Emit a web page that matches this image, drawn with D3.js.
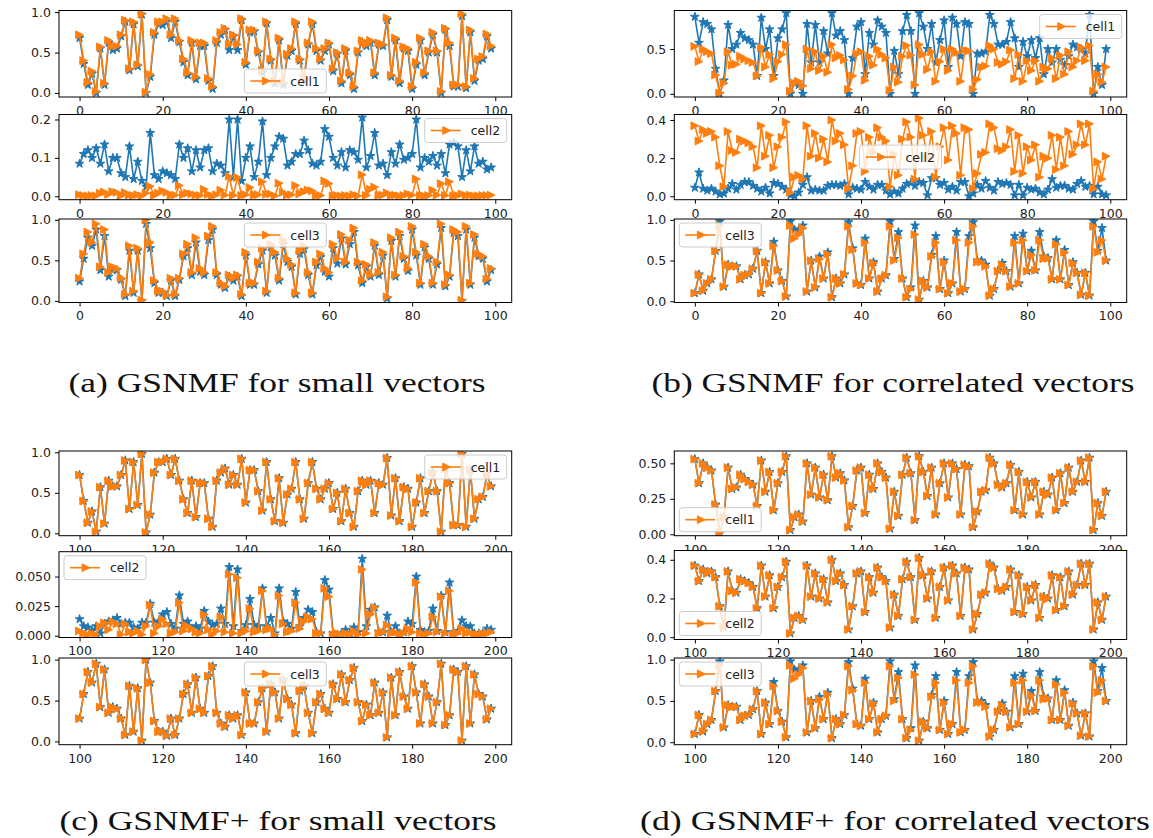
<!DOCTYPE html>
<html><head><meta charset="utf-8">
<script src="https://cdn.jsdelivr.net/npm/d3@7"></script>
<style>body{margin:0;background:#fff}svg{display:block}</style>
</head><body>
<svg id="fig" width="1153" height="838"></svg>
<script>
// ---------- data ----------
// ground-truth signals (orange) for the "small vectors" experiment
const cell1Small = [0.72,0.40,0.13,0.27,0.02,0.57,0.12,0.65,0.58,0.58,
 0.72,0.90,0.30,0.88,0.35,0.98,0.01,0.23,0.75,0.88,
 0.88,0.92,0.72,0.92,0.65,0.42,0.25,0.65,0.20,0.62,
 0.62,0.18,0.08,0.65,0.75,0.80,0.60,0.72,0.60,0.92,
 0.38,0.78,0.78,0.52,0.28,0.88,0.42,0.15,0.68,0.13,
 0.48,0.55,0.88,0.42,0.18,0.62,0.88,0.55,0.42,0.55,
 0.62,0.30,0.50,0.15,0.55,0.25,0.08,0.52,0.65,0.60,
 0.65,0.25,0.62,0.60,0.93,0.22,0.68,0.15,0.57,0.55,
 0.08,0.38,0.68,0.25,0.52,0.75,0.52,0.02,0.80,0.62,
 0.10,0.10,0.98,0.08,0.78,0.18,0.42,0.45,0.73,0.58];
const cell2Small = [0.004,0.002,0.001,0.002,0.001,0.008,0.011,0.005,0.012,0.010,
 0.001,0.010,0.003,0.002,0.004,0.001,0.008,0.026,0.002,0.008,
 0.014,0.010,0.002,0.003,0.028,0.004,0.008,0.006,0.003,0.002,
 0.018,0.005,0.001,0.004,0.016,0.003,0.052,0.002,0.049,0.002,
 0.004,0.023,0.003,0.004,0.038,0.005,0.006,0.001,0.034,0.010,
 0.003,0.004,0.028,0.006,0.012,0.016,0.014,0.002,0.002,0.040,
 0.033,0.001,0.002,0.001,0.002,0.001,0.004,0.001,0.056,0.002,
 0.018,0.024,0.002,0.003,0.009,0.002,0.003,0.001,0.002,0.006,
 0.003,0.045,0.002,0.001,0.002,0.016,0.003,0.033,0.002,0.038,
 0.001,0.002,0.006,0.002,0.003,0.001,0.001,0.002,0.002,0.003];
const cell3Small = [0.28,0.58,0.85,0.72,0.95,0.42,0.88,0.35,0.42,0.40,
 0.28,0.08,0.68,0.12,0.65,0.01,1.00,0.72,0.25,0.12,
 0.12,0.07,0.28,0.08,0.28,0.58,0.70,0.35,0.78,0.40,
 0.35,0.80,0.92,0.35,0.22,0.18,0.32,0.28,0.32,0.08,
 0.60,0.22,0.22,0.48,0.65,0.12,0.70,0.60,0.28,0.75,
 0.52,0.45,0.10,0.62,0.68,0.35,0.10,0.48,0.58,0.40,
 0.35,0.70,0.52,0.82,0.48,0.75,0.90,0.48,0.25,0.45,
 0.32,0.72,0.35,0.60,0.05,0.78,0.32,0.85,0.55,0.40,
 0.92,0.60,0.22,0.70,0.55,0.22,0.48,0.95,0.20,0.32,
 0.88,0.85,0.01,0.92,0.22,0.82,0.58,0.55,0.27,0.40];

// ground-truth signals (orange) for the "correlated vectors" experiment
const cell1Corr = [0.53,0.36,0.50,0.47,0.45,0.21,0.01,0.12,0.47,0.32,
 0.33,0.42,0.39,0.37,0.35,0.20,0.52,0.30,0.44,0.17,
 0.36,0.44,0.55,0.03,0.12,0.14,0.09,0.50,0.28,0.47,
 0.26,0.42,0.24,0.55,0.40,0.43,0.38,0.05,0.20,0.45,
 0.47,0.15,0.42,0.32,0.50,0.44,0.40,0.04,0.30,0.13,
 0.42,0.54,0.43,0.10,0.55,0.44,0.27,0.47,0.14,0.36,
 0.50,0.26,0.50,0.46,0.14,0.49,0.48,0.05,0.16,0.30,
 0.31,0.54,0.50,0.35,0.33,0.36,0.49,0.17,0.44,0.14,
 0.37,0.26,0.37,0.14,0.30,0.28,0.40,0.17,0.43,0.22,
 0.47,0.30,0.37,0.52,0.37,0.54,0.03,0.22,0.13,0.30];
const cell2Corr = [0.37,0.29,0.35,0.33,0.34,0.31,0.16,0.05,0.34,0.24,
 0.23,0.30,0.29,0.28,0.26,0.15,0.37,0.21,0.32,0.15,
 0.26,0.31,0.39,0.02,0.10,0.11,0.09,0.37,0.21,0.33,
 0.20,0.30,0.18,0.40,0.29,0.33,0.27,0.04,0.16,0.33,
 0.34,0.13,0.31,0.23,0.36,0.31,0.29,0.05,0.22,0.11,
 0.30,0.39,0.31,0.09,0.41,0.32,0.20,0.34,0.10,0.26,
 0.36,0.19,0.37,0.33,0.11,0.36,0.35,0.04,0.12,0.22,
 0.23,0.38,0.36,0.25,0.24,0.26,0.35,0.13,0.32,0.12,
 0.26,0.19,0.27,0.10,0.21,0.20,0.32,0.14,0.31,0.16,
 0.34,0.22,0.27,0.38,0.27,0.38,0.04,0.18,0.09,0.21];
const cell3Corr = [0.10,0.33,0.13,0.22,0.27,0.62,0.93,0.18,0.45,0.43,
 0.43,0.27,0.32,0.33,0.40,0.62,0.10,0.48,0.22,0.68,
 0.38,0.25,0.06,0.93,0.77,0.82,0.90,0.12,0.50,0.17,
 0.52,0.28,0.58,0.05,0.28,0.22,0.33,0.92,0.63,0.22,
 0.20,0.72,0.28,0.47,0.12,0.28,0.32,0.92,0.50,0.78,
 0.28,0.05,0.15,0.82,0.02,0.25,0.17,0.55,0.72,0.15,
 0.48,0.10,0.22,0.75,0.12,0.15,0.72,0.92,0.48,0.48,
 0.43,0.07,0.15,0.37,0.45,0.37,0.18,0.72,0.22,0.75,
 0.37,0.57,0.38,0.75,0.52,0.53,0.27,0.70,0.27,0.60,
 0.20,0.47,0.35,0.08,0.35,0.07,0.92,0.60,0.75,0.50];

// GSNMF recoveries (blue)
const gsnmfSmall1 = [0.68,0.36,0.10,0.24,0.00,0.55,0.10,0.62,0.53,0.55,
 0.70,0.88,0.28,0.85,0.33,0.97,0.00,0.20,0.72,0.85,
 0.84,0.88,0.68,0.88,0.63,0.38,0.22,0.62,0.17,0.58,
 0.58,0.15,0.05,0.62,0.72,0.78,0.53,0.70,0.53,0.90,
 0.35,0.75,0.76,0.50,0.25,0.86,0.40,0.12,0.65,0.10,
 0.46,0.52,0.85,0.40,0.15,0.60,0.85,0.52,0.40,0.52,
 0.60,0.27,0.48,0.12,0.52,0.22,0.05,0.50,0.63,0.58,
 0.62,0.22,0.60,0.58,0.90,0.20,0.65,0.12,0.55,0.52,
 0.05,0.35,0.65,0.22,0.50,0.72,0.50,0.00,0.78,0.58,
 0.08,0.08,0.95,0.06,0.75,0.15,0.40,0.42,0.70,0.55];
const gsnmfSmall2 = [0.085,0.11,0.12,0.10,0.125,0.085,0.135,0.065,0.10,0.10,
 0.06,0.05,0.13,0.045,0.09,0.04,0.025,0.165,0.055,0.045,
 0.065,0.06,0.055,0.045,0.135,0.10,0.125,0.065,0.12,0.075,
 0.12,0.125,0.065,0.085,0.08,0.06,0.20,0.05,0.20,0.04,
 0.10,0.13,0.05,0.09,0.195,0.055,0.10,0.13,0.155,0.15,
 0.08,0.09,0.11,0.11,0.145,0.12,0.085,0.08,0.09,0.175,
 0.155,0.10,0.08,0.115,0.075,0.12,0.115,0.095,0.205,0.075,
 0.105,0.165,0.08,0.085,0.055,0.115,0.085,0.135,0.095,0.10,
 0.11,0.20,0.075,0.10,0.09,0.105,0.08,0.11,0.06,0.135,
 0.14,0.13,0.05,0.12,0.065,0.13,0.085,0.09,0.07,0.075];
const gsnmfSmall3 = [0.24,0.52,0.78,0.68,0.88,0.38,0.80,0.30,0.38,0.38,
 0.26,0.06,0.62,0.10,0.62,0.00,0.95,0.65,0.22,0.10,
 0.10,0.06,0.25,0.06,0.26,0.55,0.65,0.32,0.72,0.36,
 0.32,0.75,0.88,0.32,0.20,0.16,0.30,0.25,0.30,0.06,
 0.56,0.20,0.20,0.45,0.62,0.10,0.66,0.56,0.25,0.70,
 0.48,0.42,0.08,0.58,0.64,0.32,0.08,0.44,0.54,0.36,
 0.30,0.65,0.46,0.77,0.45,0.70,0.85,0.44,0.22,0.42,
 0.30,0.68,0.32,0.56,0.03,0.74,0.30,0.80,0.52,0.37,
 0.88,0.56,0.20,0.66,0.52,0.20,0.45,0.90,0.18,0.30,
 0.84,0.80,0.00,0.88,0.20,0.78,0.55,0.52,0.24,0.38];
const gsnmfCorr1 = [0.86,0.57,0.80,0.78,0.72,0.28,0.00,0.15,0.77,0.50,
 0.55,0.68,0.62,0.60,0.55,0.20,0.85,0.50,0.72,0.20,
 0.62,0.72,0.90,0.00,0.12,0.10,0.00,0.78,0.35,0.77,
 0.35,0.70,0.45,0.90,0.65,0.70,0.60,0.00,0.40,0.75,
 0.80,0.22,0.68,0.55,0.82,0.75,0.68,0.00,0.48,0.22,
 0.70,0.88,0.70,0.00,0.90,0.75,0.50,0.78,0.35,0.60,
 0.82,0.30,0.85,0.78,0.42,0.80,0.78,0.00,0.45,0.45,
 0.47,0.88,0.78,0.55,0.55,0.58,0.80,0.62,0.30,0.58,
 0.42,0.60,0.40,0.62,0.22,0.50,0.35,0.50,0.38,0.32,
 0.42,0.55,0.52,0.50,0.45,0.88,0.00,0.30,0.10,0.50];
const gsnmfCorr2 = [0.045,0.125,0.04,0.03,0.04,0.025,0.01,0.015,0.04,0.065,
 0.035,0.06,0.075,0.075,0.055,0.04,0.025,0.045,0.015,0.07,
 0.065,0.05,0.035,0.005,0.00,0.02,0.06,0.10,0.03,0.035,
 0.03,0.03,0.055,0.06,0.06,0.055,0.065,0.01,0.045,0.04,
 0.035,0.075,0.05,0.035,0.06,0.06,0.03,0.01,0.025,0.015,
 0.04,0.065,0.07,0.055,0.075,0.07,0.005,0.095,0.095,0.06,
 0.07,0.035,0.05,0.03,0.075,0.075,0.00,0.015,0.06,0.04,
 0.08,0.045,0.03,0.075,0.065,0.07,0.06,0.005,0.06,0.005,
 0.045,0.035,0.04,0.02,0.01,0.035,0.09,0.045,0.055,0.055,
 0.04,0.035,0.065,0.08,0.05,0.055,0.01,0.05,0.01,0.005];
const gsnmfCorr3 = [0.10,0.33,0.13,0.22,0.27,0.62,0.98,0.18,0.45,0.43,
 0.43,0.27,0.32,0.33,0.40,0.62,0.10,0.48,0.22,0.73,
 0.38,0.25,0.06,0.98,0.88,0.88,0.93,0.12,0.50,0.17,
 0.55,0.28,0.60,0.05,0.28,0.22,0.33,0.97,0.65,0.22,
 0.20,0.77,0.28,0.48,0.12,0.28,0.32,0.98,0.52,0.85,
 0.28,0.05,0.17,0.93,0.02,0.25,0.17,0.57,0.80,0.15,
 0.50,0.10,0.22,0.85,0.12,0.15,0.80,0.97,0.50,0.50,
 0.45,0.07,0.15,0.38,0.47,0.37,0.18,0.80,0.22,0.83,
 0.37,0.62,0.38,0.85,0.55,0.53,0.27,0.75,0.27,0.63,
 0.20,0.48,0.35,0.08,0.35,0.07,0.98,0.62,0.90,0.50];

// GSNMF+ recoveries (blue)
const gsnmfPlusSmall1 = cell1Small;
const gsnmfPlusSmall2 = [0.014,0.008,0.007,0.004,0.008,0.002,0.010,0.012,0.013,0.015,
 0.010,0.011,0.011,0.007,0.006,0.011,0.011,0.027,0.011,0.012,
 0.018,0.020,0.010,0.006,0.034,0.010,0.012,0.006,0.008,0.006,
 0.021,0.012,0.009,0.010,0.023,0.010,0.058,0.008,0.056,0.004,
 0.009,0.031,0.009,0.008,0.040,0.008,0.015,0.002,0.040,0.012,
 0.010,0.006,0.037,0.008,0.015,0.022,0.020,0.003,0.002,0.047,
 0.039,0.002,0.001,0.002,0.005,0.002,0.007,0.003,0.065,0.008,
 0.022,0.024,0.003,0.003,0.017,0.003,0.008,0.002,0.003,0.012,
 0.010,0.050,0.005,0.003,0.004,0.023,0.004,0.034,0.003,0.045,
 0.003,0.004,0.013,0.008,0.008,0.002,0.002,0.002,0.006,0.005];
const gsnmfPlusSmall3 = cell3Small;
const gsnmfPlusCorr1 = cell1Corr;
const gsnmfPlusCorr2 = cell2Corr;
const gsnmfPlusCorr3 = gsnmfCorr3;

// sample indices and tick labels
const idxFirst = d3.range(0, 100);
const idxSecond = d3.range(100, 200);
const xTicksFirst = [0, 20, 40, 60, 80, 100];
const xTicksSecond = [100, 120, 140, 160, 180, 200];
const yTicksUnit = [0, 0.5, 1.0];
const yTicksHalf = [0, 0.5];
const yTicksTenth = [0, 0.1, 0.2];
const yTicksFifth = [0, 0.2, 0.4];
const yTicksQuarter = [0, 0.25, 0.5];
const yTicksSmall = [0, 0.025, 0.05];
const cellNames = ["cell1", "cell2", "cell3"];
const captions = ["(a) GSNMF for small vectors", "(b) GSNMF for correlated vectors",
                  "(c) GSNMF+ for small vectors", "(d) GSNMF+ for correlated vectors"];

// ---------- layout ----------
const BLUE = "#1f77b4", ORANGE = "#ff7f0e";
const svg = d3.select("#fig");
svg.append("rect").attr("width", 1153).attr("height", 838).attr("fill", "#fff");

const colX = [[59, 511.7], [674.3, 1126.7]];
const rowsTop = [[10.5, 97], [114.5, 199.7], [219, 302.5]];
const rowsBottomC = [[451, 535.7], [551.7, 637.5], [658, 744.7]];
const rowsBottomD = [[451, 535.7], [550.5, 639.5], [658, 744.7]];

const panels = [
  { col: 0, rows: rowsTop, idx: idxFirst, xt: xTicksFirst, cap: captions[0], capX: 277, capY: 392, capW: 417, subs: [
    { blue: gsnmfSmall1, orange: cell1Small, ydom: [-0.05, 1.02], yt: yTicksUnit, fmt: ".1f", leg: "lower center" },
    { blue: gsnmfSmall2, orange: cell2Small, ydom: [-0.009, 0.213], yt: yTicksTenth, fmt: ".1f", leg: "upper right" },
    { blue: gsnmfSmall3, orange: cell3Small, ydom: [-0.02, 1.01], yt: yTicksUnit, fmt: ".1f", leg: "upper center" } ] },
  { col: 1, rows: rowsTop, idx: idxFirst, xt: xTicksFirst, cap: captions[1], capX: 893, capY: 392, capW: 483, subs: [
    { blue: gsnmfCorr1, orange: cell1Corr, ydom: [-0.035, 0.93], yt: yTicksHalf, fmt: ".1f", leg: "upper right" },
    { blue: gsnmfCorr2, orange: cell2Corr, ydom: [-0.018, 0.429], yt: yTicksFifth, fmt: ".1f", leg: "center" },
    { blue: gsnmfCorr3, orange: cell3Corr, ydom: [-0.015, 1.01], yt: yTicksUnit, fmt: ".1f", leg: "upper left" } ] },
  { col: 0, rows: rowsBottomC, idx: idxSecond, xt: xTicksSecond, cap: captions[2], capX: 278, capY: 830, capW: 437, subs: [
    { blue: gsnmfPlusSmall1, orange: cell1Small, ydom: [-0.03, 1.016], yt: yTicksUnit, fmt: ".1f", leg: "upper right" },
    { blue: gsnmfPlusSmall2, orange: cell2Small, ydom: [-0.0015, 0.071], yt: yTicksSmall, fmt: ".3f", leg: "upper left" },
    { blue: gsnmfPlusSmall3, orange: cell3Small, ydom: [-0.04, 1.02], yt: yTicksUnit, fmt: ".1f", leg: "upper center" } ] },
  { col: 1, rows: rowsBottomD, idx: idxSecond, xt: xTicksSecond, cap: captions[3], capX: 895, capY: 830, capW: 510, subs: [
    { blue: gsnmfPlusCorr1, orange: cell1Corr, ydom: [-0.01, 0.587], yt: yTicksQuarter, fmt: ".2f", leg: "lower left" },
    { blue: gsnmfPlusCorr2, orange: cell2Corr, ydom: [-0.012, 0.448], yt: yTicksFifth, fmt: ".1f", leg: "lower left" },
    { blue: gsnmfPlusCorr3, orange: cell3Corr, ydom: [-0.03, 1.02], yt: yTicksUnit, fmt: ".1f", leg: "upper left" } ] }
];

function starPath(R) {
  const r = R * 0.381966; let p = "";
  for (let k = 0; k < 10; k++) {
    const rad = k % 2 ? r : R, a = -Math.PI / 2 + k * Math.PI / 5;
    p += (k ? "L" : "M") + (rad * Math.cos(a)).toFixed(2) + "," + (rad * Math.sin(a)).toFixed(2);
  }
  return p + "Z";
}
const STAR = starPath(4.6);
const TRI = (r => `M${r},0L${-r},${r}L${-r},${-r}Z`)(3.9);

let clipId = 0;
function drawSeries(g, xs, vals, x, y, color, marker) {
  const line = d3.line().x((d, i) => x(xs[i])).y(d => y(d));
  g.append("path").datum(vals).attr("d", line).attr("fill", "none")
    .attr("stroke", color).attr("stroke-width", 1.6).attr("stroke-linejoin", "round");
  g.selectAll(null).data(vals).enter().append("path")
    .attr("d", marker).attr("transform", (d, i) => `translate(${x(xs[i])},${y(d)})`)
    .attr("fill", color).attr("stroke", color).attr("stroke-width", 1).attr("stroke-linejoin", "miter");
}

function drawLegend(g, label, loc, l, r, t, b) {
  const w = 82, h = 24;
  let lx, ly;
  if (loc.includes("left")) lx = l + 5; else if (loc.includes("right")) lx = r - 5 - w; else lx = (l + r) / 2 - w / 2;
  if (loc.startsWith("upper")) ly = t + 4; else if (loc.startsWith("lower")) ly = b - 4 - h; else ly = (t + b) / 2 - h / 2;
  const lg = g.append("g").attr("transform", `translate(${lx},${ly})`);
  lg.append("rect").attr("width", w).attr("height", h).attr("rx", 3)
    .attr("fill", "#fff").attr("fill-opacity", 0.8).attr("stroke", "#ccc").attr("stroke-width", 1);
  lg.append("line").attr("x1", 6).attr("x2", 36).attr("y1", h / 2).attr("y2", h / 2)
    .attr("stroke", ORANGE).attr("stroke-width", 1.6);
  lg.append("path").attr("d", TRI).attr("transform", `translate(22,${h / 2})`).attr("fill", ORANGE).attr("stroke", ORANGE).attr("stroke-width", 1);
  lg.append("text").attr("x", 46).attr("y", h / 2 + 4.5).text(label)
    .attr("font-family", "DejaVu Sans").attr("font-size", 12.5).attr("fill", "#222");
}

panels.forEach(p => {
  const [l, r] = colX[p.col];
  const x = d3.scaleLinear().domain([p.idx[0] - 4.95, p.idx[p.idx.length - 1] + 4.95]).range([l, r]);
  p.subs.forEach((s, k) => {
    const [t, b] = p.rows[k];
    const y = d3.scaleLinear().domain(s.ydom).range([b, t]);
    const g = svg.append("g");
    g.append("rect").attr("x", l).attr("y", t).attr("width", r - l).attr("height", b - t).attr("fill", "#fff");
    const id = "clip" + (clipId++);
    g.append("clipPath").attr("id", id).append("rect").attr("x", l).attr("y", t).attr("width", r - l).attr("height", b - t);
    const data = g.append("g").attr("clip-path", `url(#${id})`);
    drawSeries(data, p.idx, s.blue, x, y, BLUE, STAR);
    drawSeries(data, p.idx, s.orange, x, y, ORANGE, TRI);
    drawLegend(g, cellNames[k], s.leg, l, r, t, b);
    g.append("rect").attr("x", l).attr("y", t).attr("width", r - l).attr("height", b - t)
      .attr("fill", "none").attr("stroke", "#000").attr("stroke-width", 1);
    const ya = g.append("g").attr("transform", `translate(${l},0)`)
      .call(d3.axisLeft(y).tickValues(s.yt).tickFormat(d3.format(s.fmt)).tickSize(4).tickPadding(4));
    const xa = g.append("g").attr("transform", `translate(0,${b})`)
      .call(d3.axisBottom(x).tickValues(p.xt).tickFormat(d3.format("d")).tickSize(4).tickPadding(5));
    [ya, xa].forEach(a => {
      a.select(".domain").remove();
      a.selectAll("text").attr("font-family", "DejaVu Sans").attr("font-size", 12.5).attr("fill", "#222");
      a.selectAll("line").attr("stroke", "#000").attr("stroke-width", 1);
    });
  });
  svg.append("text").attr("x", p.capX).attr("y", p.capY).attr("text-anchor", "middle")
    .attr("textLength", p.capW).attr("lengthAdjust", "spacingAndGlyphs")
    .attr("font-family", "Liberation Serif").attr("font-size", 28).attr("fill", "#111").text(p.cap);
});
</script>
</body></html>
